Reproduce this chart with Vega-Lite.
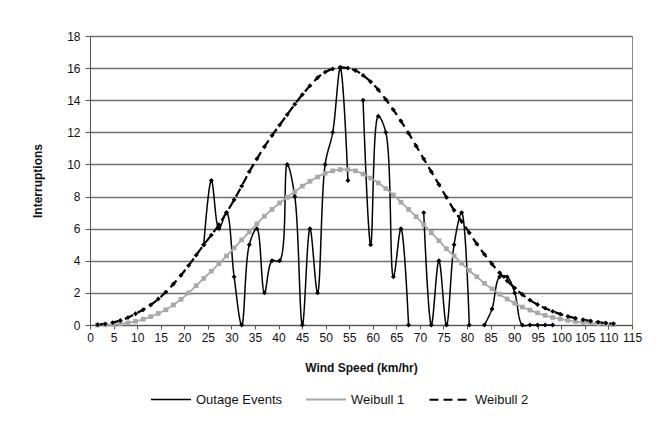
{
  "$schema": "https://vega.github.io/schema/vega-lite/v6.json",
  "width": 542,
  "height": 289,
  "autosize": {"type": "none"},
  "padding": {"left": 90, "top": 36, "right": 36, "bottom": 97},
  "background": "white",
  "config": {
    "font": "Liberation Sans",
    "view": {"stroke": "#8a8a8a", "strokeWidth": 1},
    "axis": {"labelFont": "Liberation Sans", "titleFont": "Liberation Sans", "labelColor": "#111", "titleColor": "#111", "labelFontSize": 12, "titleFontSize": 12, "titleFontWeight": "bold", "domainColor": "#555", "tickColor": "#555"},
    "legend": {"labelFont": "Liberation Sans", "labelFontSize": 13, "labelColor": "#111"}
  },
  "data": {"values": [
    {"speed": 24.14, "count": 5, "series": "Outage Events"},
    {"speed": 25.75, "count": 9, "series": "Outage Events"},
    {"speed": 27.36, "count": 6, "series": "Outage Events"},
    {"speed": 28.97, "count": 7, "series": "Outage Events"},
    {"speed": 30.58, "count": 3, "series": "Outage Events"},
    {"speed": 32.19, "count": 0, "series": "Outage Events"},
    {"speed": 33.80, "count": 5, "series": "Outage Events"},
    {"speed": 35.41, "count": 6, "series": "Outage Events"},
    {"speed": 37.01, "count": 2, "series": "Outage Events"},
    {"speed": 38.62, "count": 4, "series": "Outage Events"},
    {"speed": 40.23, "count": 4, "series": "Outage Events"},
    {"speed": 41.84, "count": 10, "series": "Outage Events"},
    {"speed": 43.45, "count": 8, "series": "Outage Events"},
    {"speed": 45.06, "count": 0, "series": "Outage Events"},
    {"speed": 46.67, "count": 6, "series": "Outage Events"},
    {"speed": 48.28, "count": 2, "series": "Outage Events"},
    {"speed": 49.89, "count": 10, "series": "Outage Events"},
    {"speed": 51.50, "count": 12, "series": "Outage Events"},
    {"speed": 53.11, "count": 16, "series": "Outage Events"},
    {"speed": 54.72, "count": 9, "series": "Outage Events"},
    {"speed": 56.33, "count": null, "series": "Outage Events"},
    {"speed": 57.94, "count": 14, "series": "Outage Events"},
    {"speed": 59.55, "count": 5, "series": "Outage Events"},
    {"speed": 61.16, "count": 13, "series": "Outage Events"},
    {"speed": 62.76, "count": 12, "series": "Outage Events"},
    {"speed": 64.37, "count": 3, "series": "Outage Events"},
    {"speed": 65.98, "count": 6, "series": "Outage Events"},
    {"speed": 67.59, "count": 0, "series": "Outage Events"},
    {"speed": 69.20, "count": null, "series": "Outage Events"},
    {"speed": 70.81, "count": 7, "series": "Outage Events"},
    {"speed": 72.42, "count": 0, "series": "Outage Events"},
    {"speed": 74.03, "count": 4, "series": "Outage Events"},
    {"speed": 75.64, "count": 0, "series": "Outage Events"},
    {"speed": 77.25, "count": 5, "series": "Outage Events"},
    {"speed": 78.86, "count": 7, "series": "Outage Events"},
    {"speed": 80.47, "count": 0, "series": "Outage Events"},
    {"speed": 82.08, "count": null, "series": "Outage Events"},
    {"speed": 83.69, "count": 0, "series": "Outage Events"},
    {"speed": 85.30, "count": 1, "series": "Outage Events"},
    {"speed": 86.91, "count": 3, "series": "Outage Events"},
    {"speed": 88.51, "count": 3, "series": "Outage Events"},
    {"speed": 90.12, "count": 2, "series": "Outage Events"},
    {"speed": 91.73, "count": 0, "series": "Outage Events"},
    {"speed": 93.34, "count": 0, "series": "Outage Events"},
    {"speed": 94.95, "count": 0, "series": "Outage Events"},
    {"speed": 96.56, "count": 0, "series": "Outage Events"},
    {"speed": 98.17, "count": 0, "series": "Outage Events"},

    {"speed": 1.61, "count": 0.0, "series": "Weibull 1"},
    {"speed": 3.22, "count": 0.01, "series": "Weibull 1"},
    {"speed": 4.83, "count": 0.03, "series": "Weibull 1"},
    {"speed": 6.44, "count": 0.07, "series": "Weibull 1"},
    {"speed": 8.05, "count": 0.13, "series": "Weibull 1"},
    {"speed": 9.66, "count": 0.23, "series": "Weibull 1"},
    {"speed": 11.27, "count": 0.36, "series": "Weibull 1"},
    {"speed": 12.87, "count": 0.52, "series": "Weibull 1"},
    {"speed": 14.48, "count": 0.72, "series": "Weibull 1"},
    {"speed": 16.09, "count": 0.95, "series": "Weibull 1"},
    {"speed": 17.70, "count": 1.25, "series": "Weibull 1"},
    {"speed": 19.31, "count": 1.6, "series": "Weibull 1"},
    {"speed": 20.92, "count": 2.0, "series": "Weibull 1"},
    {"speed": 22.53, "count": 2.45, "series": "Weibull 1"},
    {"speed": 24.14, "count": 2.9, "series": "Weibull 1"},
    {"speed": 25.75, "count": 3.35, "series": "Weibull 1"},
    {"speed": 27.36, "count": 3.82, "series": "Weibull 1"},
    {"speed": 28.97, "count": 4.3, "series": "Weibull 1"},
    {"speed": 30.58, "count": 4.8, "series": "Weibull 1"},
    {"speed": 32.19, "count": 5.3, "series": "Weibull 1"},
    {"speed": 33.80, "count": 5.8, "series": "Weibull 1"},
    {"speed": 35.41, "count": 6.3, "series": "Weibull 1"},
    {"speed": 37.01, "count": 6.78, "series": "Weibull 1"},
    {"speed": 38.62, "count": 7.2, "series": "Weibull 1"},
    {"speed": 40.23, "count": 7.6, "series": "Weibull 1"},
    {"speed": 41.84, "count": 7.95, "series": "Weibull 1"},
    {"speed": 43.45, "count": 8.3, "series": "Weibull 1"},
    {"speed": 45.06, "count": 8.65, "series": "Weibull 1"},
    {"speed": 46.67, "count": 8.95, "series": "Weibull 1"},
    {"speed": 48.28, "count": 9.22, "series": "Weibull 1"},
    {"speed": 49.89, "count": 9.45, "series": "Weibull 1"},
    {"speed": 51.50, "count": 9.6, "series": "Weibull 1"},
    {"speed": 53.11, "count": 9.68, "series": "Weibull 1"},
    {"speed": 54.72, "count": 9.68, "series": "Weibull 1"},
    {"speed": 56.33, "count": 9.6, "series": "Weibull 1"},
    {"speed": 57.94, "count": 9.4, "series": "Weibull 1"},
    {"speed": 59.55, "count": 9.15, "series": "Weibull 1"},
    {"speed": 61.16, "count": 8.85, "series": "Weibull 1"},
    {"speed": 62.76, "count": 8.5, "series": "Weibull 1"},
    {"speed": 64.37, "count": 8.1, "series": "Weibull 1"},
    {"speed": 65.98, "count": 7.65, "series": "Weibull 1"},
    {"speed": 67.59, "count": 7.2, "series": "Weibull 1"},
    {"speed": 69.20, "count": 6.75, "series": "Weibull 1"},
    {"speed": 70.81, "count": 6.25, "series": "Weibull 1"},
    {"speed": 72.42, "count": 5.75, "series": "Weibull 1"},
    {"speed": 74.03, "count": 5.25, "series": "Weibull 1"},
    {"speed": 75.64, "count": 4.75, "series": "Weibull 1"},
    {"speed": 77.25, "count": 4.3, "series": "Weibull 1"},
    {"speed": 78.86, "count": 3.85, "series": "Weibull 1"},
    {"speed": 80.47, "count": 3.4, "series": "Weibull 1"},
    {"speed": 82.08, "count": 3.0, "series": "Weibull 1"},
    {"speed": 83.69, "count": 2.6, "series": "Weibull 1"},
    {"speed": 85.30, "count": 2.25, "series": "Weibull 1"},
    {"speed": 86.91, "count": 1.92, "series": "Weibull 1"},
    {"speed": 88.51, "count": 1.62, "series": "Weibull 1"},
    {"speed": 90.12, "count": 1.35, "series": "Weibull 1"},
    {"speed": 91.73, "count": 1.12, "series": "Weibull 1"},
    {"speed": 93.34, "count": 0.93, "series": "Weibull 1"},
    {"speed": 94.95, "count": 0.75, "series": "Weibull 1"},
    {"speed": 96.56, "count": 0.6, "series": "Weibull 1"},
    {"speed": 98.17, "count": 0.47, "series": "Weibull 1"},
    {"speed": 99.78, "count": 0.37, "series": "Weibull 1"},
    {"speed": 101.39, "count": 0.29, "series": "Weibull 1"},
    {"speed": 103.00, "count": 0.22, "series": "Weibull 1"},
    {"speed": 104.61, "count": 0.16, "series": "Weibull 1"},
    {"speed": 106.22, "count": 0.12, "series": "Weibull 1"},
    {"speed": 107.83, "count": 0.08, "series": "Weibull 1"},
    {"speed": 109.44, "count": 0.05, "series": "Weibull 1"},
    {"speed": 111.05, "count": 0.03, "series": "Weibull 1"},

    {"speed": 1.61, "count": 0.02, "series": "Weibull 2"},
    {"speed": 3.22, "count": 0.07, "series": "Weibull 2"},
    {"speed": 4.83, "count": 0.15, "series": "Weibull 2"},
    {"speed": 6.44, "count": 0.28, "series": "Weibull 2"},
    {"speed": 8.05, "count": 0.46, "series": "Weibull 2"},
    {"speed": 9.66, "count": 0.7, "series": "Weibull 2"},
    {"speed": 11.27, "count": 0.95, "series": "Weibull 2"},
    {"speed": 12.87, "count": 1.25, "series": "Weibull 2"},
    {"speed": 14.48, "count": 1.62, "series": "Weibull 2"},
    {"speed": 16.09, "count": 2.05, "series": "Weibull 2"},
    {"speed": 17.70, "count": 2.55, "series": "Weibull 2"},
    {"speed": 19.31, "count": 3.1, "series": "Weibull 2"},
    {"speed": 20.92, "count": 3.7, "series": "Weibull 2"},
    {"speed": 22.53, "count": 4.35, "series": "Weibull 2"},
    {"speed": 24.14, "count": 5.0, "series": "Weibull 2"},
    {"speed": 25.75, "count": 5.6, "series": "Weibull 2"},
    {"speed": 27.36, "count": 6.25, "series": "Weibull 2"},
    {"speed": 28.97, "count": 7.0, "series": "Weibull 2"},
    {"speed": 30.58, "count": 7.8, "series": "Weibull 2"},
    {"speed": 32.19, "count": 8.65, "series": "Weibull 2"},
    {"speed": 33.80, "count": 9.55, "series": "Weibull 2"},
    {"speed": 35.41, "count": 10.35, "series": "Weibull 2"},
    {"speed": 37.01, "count": 11.1, "series": "Weibull 2"},
    {"speed": 38.62, "count": 11.8, "series": "Weibull 2"},
    {"speed": 40.23, "count": 12.45, "series": "Weibull 2"},
    {"speed": 41.84, "count": 13.1, "series": "Weibull 2"},
    {"speed": 43.45, "count": 13.75, "series": "Weibull 2"},
    {"speed": 45.06, "count": 14.35, "series": "Weibull 2"},
    {"speed": 46.67, "count": 14.9, "series": "Weibull 2"},
    {"speed": 48.28, "count": 15.4, "series": "Weibull 2"},
    {"speed": 49.89, "count": 15.75, "series": "Weibull 2"},
    {"speed": 51.50, "count": 15.95, "series": "Weibull 2"},
    {"speed": 53.11, "count": 16.05, "series": "Weibull 2"},
    {"speed": 54.72, "count": 16.0, "series": "Weibull 2"},
    {"speed": 56.33, "count": 15.85, "series": "Weibull 2"},
    {"speed": 57.94, "count": 15.55, "series": "Weibull 2"},
    {"speed": 59.55, "count": 15.15, "series": "Weibull 2"},
    {"speed": 61.16, "count": 14.65, "series": "Weibull 2"},
    {"speed": 62.76, "count": 14.05, "series": "Weibull 2"},
    {"speed": 64.37, "count": 13.4, "series": "Weibull 2"},
    {"speed": 65.98, "count": 12.7, "series": "Weibull 2"},
    {"speed": 67.59, "count": 11.95, "series": "Weibull 2"},
    {"speed": 69.20, "count": 11.15, "series": "Weibull 2"},
    {"speed": 70.81, "count": 10.35, "series": "Weibull 2"},
    {"speed": 72.42, "count": 9.55, "series": "Weibull 2"},
    {"speed": 74.03, "count": 8.75, "series": "Weibull 2"},
    {"speed": 75.64, "count": 7.95, "series": "Weibull 2"},
    {"speed": 77.25, "count": 7.15, "series": "Weibull 2"},
    {"speed": 78.86, "count": 6.45, "series": "Weibull 2"},
    {"speed": 80.47, "count": 5.75, "series": "Weibull 2"},
    {"speed": 82.08, "count": 5.05, "series": "Weibull 2"},
    {"speed": 83.69, "count": 4.4, "series": "Weibull 2"},
    {"speed": 85.30, "count": 3.8, "series": "Weibull 2"},
    {"speed": 86.91, "count": 3.25, "series": "Weibull 2"},
    {"speed": 88.51, "count": 2.75, "series": "Weibull 2"},
    {"speed": 90.12, "count": 2.3, "series": "Weibull 2"},
    {"speed": 91.73, "count": 1.9, "series": "Weibull 2"},
    {"speed": 93.34, "count": 1.55, "series": "Weibull 2"},
    {"speed": 94.95, "count": 1.28, "series": "Weibull 2"},
    {"speed": 96.56, "count": 1.05, "series": "Weibull 2"},
    {"speed": 98.17, "count": 0.85, "series": "Weibull 2"},
    {"speed": 99.78, "count": 0.68, "series": "Weibull 2"},
    {"speed": 101.39, "count": 0.54, "series": "Weibull 2"},
    {"speed": 103.00, "count": 0.42, "series": "Weibull 2"},
    {"speed": 104.61, "count": 0.33, "series": "Weibull 2"},
    {"speed": 106.22, "count": 0.25, "series": "Weibull 2"},
    {"speed": 107.83, "count": 0.18, "series": "Weibull 2"},
    {"speed": 109.44, "count": 0.12, "series": "Weibull 2"},
    {"speed": 111.05, "count": 0.08, "series": "Weibull 2"}
  ]},
  "encoding": {
    "x": {"field": "speed", "type": "quantitative", "title": "Wind Speed (km/hr)",
      "scale": {"domain": [0, 115], "nice": false, "zero": true},
      "axis": {"values": [0,5,10,15,20,25,30,35,40,45,50,55,60,65,70,75,80,85,90,95,100,105,110,115], "grid": false, "tickSize": 4, "labelPadding": 3, "labelOverlap": false, "labelFlush": false, "labelBound": false, "titlePadding": 19}},
    "y": {"field": "count", "type": "quantitative", "title": "Interruptions",
      "scale": {"domain": [0, 18], "nice": false},
      "axis": {"values": [0,2,4,6,8,10,12,14,16,18], "grid": true, "gridColor": "#707070", "gridWidth": 1.3, "tickSize": 5, "labelPadding": 5, "titlePadding": 22}}
  },
  "layer": [
    {
      "mark": {"type": "line", "interpolate": "catmull-rom", "invalid": "break-paths-show-domains"},
      "encoding": {
        "color": {"field": "series", "type": "nominal", "title": null,
          "scale": {"domain": ["Outage Events", "Weibull 1", "Weibull 2"], "range": ["#000000", "#a8a8a8", "#000000"]},
          "legend": {"orient": "none", "direction": "horizontal", "legendX": 60, "legendY": 342, "symbolType": "stroke", "symbolSize": 1600, "labelOffset": 4, "columnPadding": 20}},
        "strokeDash": {"field": "series", "type": "nominal", "title": null,
          "scale": {"domain": ["Outage Events", "Weibull 1", "Weibull 2"], "range": [[1, 0], [1, 0], [9, 5]]}},
        "strokeWidth": {"field": "series", "type": "nominal", "title": null,
          "scale": {"domain": ["Outage Events", "Weibull 1", "Weibull 2"], "range": [1.5, 2.2, 3.8]}}
      }
    },
    {
      "transform": [{"filter": "datum.series === 'Weibull 1'"}],
      "mark": {"type": "point", "shape": "square", "filled": true, "size": 22, "color": "#a8a8a8", "opacity": 1}
    },
    {
      "transform": [{"filter": "datum.series === 'Weibull 2'"}],
      "mark": {"type": "point", "shape": "diamond", "filled": true, "size": 24, "color": "#000000", "opacity": 1}
    },
    {
      "transform": [{"filter": "datum.series === 'Outage Events' && datum.count != null"}],
      "mark": {"type": "point", "shape": "diamond", "filled": true, "size": 24, "color": "#000000", "opacity": 1}
    }
  ]
}
